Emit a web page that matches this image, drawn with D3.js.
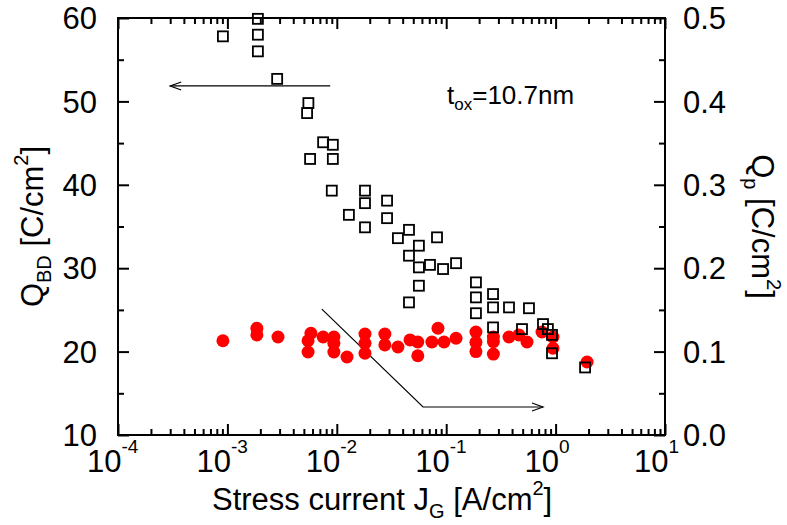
<!DOCTYPE html>
<html lang="en">
<head>
<meta charset="UTF-8">
<title>QBD vs stress current</title>
<script src="https://d3js.org/d3.v7.min.js"></script>
<style>
  html, body { margin: 0; background: #fff; overflow: hidden; }
  text { font-family: Arial, "Liberation Sans", sans-serif; fill: #000; }
</style>
</head>
<body>
<svg id="svg"></svg>
<script>
// QBD (open squares, left axis)
const sqJ = [9.1e-4, 1.9e-3, 1.9e-3, 1.9e-3, 2.85e-3, 5.5e-3, 5.35e-3, 7.5e-3, 9.2e-3, 5.7e-3,
  9.2e-3, 9.0e-3, 0.0181, 0.0181, 0.0288, 0.0129, 0.0288, 0.0181, 0.0457, 0.0362,
  0.0824, 0.0563, 0.0457, 0.0563, 0.0711, 0.0936, 0.123, 0.0563, 0.0457, 0.187,
  0.187, 0.268, 0.268, 0.375, 0.571, 0.187, 0.268, 0.493, 0.767, 0.85,
  0.927, 0.927, 1.86];
const sqQbd = [57.8, 59.9, 58.0, 56.0, 52.7, 49.8, 48.6, 45.1, 44.8, 43.1,
  43.1, 39.3, 39.3, 37.8, 38.1, 36.4, 36.0, 34.9, 34.6, 33.6,
  33.7, 32.7, 31.5, 30.1, 30.4, 29.9, 30.6, 27.9, 25.9, 28.3,
  26.5, 26.9, 25.3, 25.3, 25.2, 24.6, 22.9, 22.7, 23.3, 22.7,
  22.0, 19.8, 18.1];

// Qp (red dots, right axis)
const dotJ = [9.1e-4, 1.86e-3, 1.86e-3, 2.9e-3, 5.8e-3, 5.46e-3, 5.46e-3, 7.5e-3, 9.4e-3, 9.4e-3,
  9.4e-3, 0.0124, 0.0181, 0.0181, 0.0181, 0.0275, 0.0275, 0.0362, 0.0467, 0.055,
  0.055, 0.074, 0.0841, 0.0955, 0.123, 0.187, 0.187, 0.187, 0.27, 0.27,
  0.27, 0.375, 0.462, 0.548, 0.751, 0.946, 0.946, 1.94];
const dotQp = [0.113, 0.128, 0.120, 0.1175, 0.122, 0.113, 0.0995, 0.1175, 0.1175, 0.110,
  0.0995, 0.0935, 0.121, 0.110, 0.098, 0.121, 0.108, 0.1055, 0.114, 0.1115,
  0.095, 0.1115, 0.128, 0.1115, 0.116, 0.1235, 0.111, 0.100, 0.1175, 0.112,
  0.097, 0.1175, 0.12, 0.1115, 0.1235, 0.1175, 0.104, 0.0875];

const xExp = [-4, -3, -2, -1, 0, 1];
const yLeftTicks = [10, 20, 30, 40, 50, 60];
const yRightTicks = [0.0, 0.1, 0.2, 0.3, 0.4, 0.5];

const width = 787, height = 525;
const margin = { top: 18, left: 118, bottom: 90, right: 122 };

const svg = d3.select('#svg').attr('width', width).attr('height', height);

const x = d3.scaleLog().domain([1e-4, 10]).range([margin.left, width - margin.right]);
const yL = d3.scaleLinear().domain([10, 60]).range([height - margin.bottom, margin.top]);
const yR = d3.scaleLinear().domain([0, 0.5]).range([height - margin.bottom, margin.top]);

const majorX = xExp.map(e => Math.pow(10, e));
const minorX = [];
xExp.slice(0, -1).forEach(e => { for (let k = 2; k <= 9; k++) minorX.push(k * Math.pow(10, e)); });

const x0 = margin.left, x1 = width - margin.right;
const y0 = height - margin.bottom, y1 = margin.top;

const styleAxis = g => {
  g.select('.domain').remove();
  g.selectAll('line').attr('stroke', '#000').attr('stroke-width', 2);
  g.selectAll('text').remove();
};

// bottom + top ticks (inward)
svg.append('g').attr('transform', `translate(0,${y0})`)
  .call(d3.axisBottom(x).tickValues(majorX).tickSize(-11)).call(styleAxis);
svg.append('g').attr('transform', `translate(0,${y0})`)
  .call(d3.axisBottom(x).tickValues(minorX).tickSize(-6)).call(styleAxis);
svg.append('g').attr('transform', `translate(0,${y1})`)
  .call(d3.axisTop(x).tickValues(majorX).tickSize(-11)).call(styleAxis);
svg.append('g').attr('transform', `translate(0,${y1})`)
  .call(d3.axisTop(x).tickValues(minorX).tickSize(-6)).call(styleAxis);

// left + right ticks
svg.append('g').attr('transform', `translate(${x0},0)`)
  .call(d3.axisLeft(yL).tickValues(yLeftTicks).tickSize(-11)).call(styleAxis);
svg.append('g').attr('transform', `translate(${x0},0)`)
  .call(d3.axisLeft(yL).tickValues(d3.range(15, 60, 10)).tickSize(-6)).call(styleAxis);
svg.append('g').attr('transform', `translate(${x1},0)`)
  .call(d3.axisRight(yR).tickValues(yRightTicks).tickSize(-11)).call(styleAxis);
svg.append('g').attr('transform', `translate(${x1},0)`)
  .call(d3.axisRight(yR).tickValues(d3.range(0.05, 0.5, 0.1)).tickSize(-6)).call(styleAxis);

// frame
svg.append('rect').attr('x', x0).attr('y', y1).attr('width', x1 - x0).attr('height', y0 - y1)
  .attr('fill', 'none').attr('stroke', '#000').attr('stroke-width', 2);

// tick labels
const fs = 31, sub = 20;
svg.append('g').selectAll('text').data(yLeftTicks).join('text')
  .attr('x', x0 - 21).attr('y', d => yL(d)).attr('dy', '0.36em')
  .attr('text-anchor', 'end').attr('font-size', fs).text(d => d);
svg.append('g').selectAll('text').data(yRightTicks).join('text')
  .attr('x', x1 + 18).attr('y', d => yR(d)).attr('dy', '0.36em')
  .attr('text-anchor', 'start').attr('font-size', fs).text(d => d.toFixed(1));
const xl = svg.append('g').selectAll('text').data(xExp).join('text')
  .attr('x', d => x(Math.pow(10, d)) - 31).attr('y', 472)
  .attr('font-size', fs);
xl.append('tspan').text('10');
xl.append('tspan').attr('font-size', 19).attr('dy', -19).text(d => d);

// axis titles
const xt = svg.append('text').attr('x', 212).attr('y', 510).attr('font-size', fs);
xt.append('tspan').text('Stress current J');
xt.append('tspan').attr('font-size', sub).attr('dy', 8).text('G');
xt.append('tspan').attr('dy', -8).text(' [A/cm');
xt.append('tspan').attr('font-size', sub).attr('dy', -15).text('2');
xt.append('tspan').attr('dy', 15).text(']');

const ylt = svg.append('text').attr('transform', `translate(43,${(y0 + y1) / 2}) rotate(-90)`)
  .attr('text-anchor', 'middle').attr('font-size', fs);
ylt.append('tspan').text('Q');
ylt.append('tspan').attr('font-size', sub).attr('dy', 8).text('BD');
ylt.append('tspan').attr('dy', -8).text(' [C/cm');
ylt.append('tspan').attr('font-size', sub).attr('dy', -15).text('2');
ylt.append('tspan').attr('dy', 15).text(']');

const yrt = svg.append('text').attr('transform', `translate(752,${(y0 + y1) / 2}) rotate(90)`)
  .attr('text-anchor', 'middle').attr('font-size', fs);
yrt.append('tspan').text('Q');
yrt.append('tspan').attr('font-size', sub).attr('dy', 8).text('p');
yrt.append('tspan').attr('dy', -8).text(' [C/cm');
yrt.append('tspan').attr('font-size', sub).attr('dy', -15).text('2');
yrt.append('tspan').attr('dy', 15).text(']');

// annotation
const tox = svg.append('text').attr('x', 447).attr('y', 104).attr('font-size', 26);
tox.append('tspan').text('t');
tox.append('tspan').attr('font-size', 17).attr('dy', 6).text('ox');
tox.append('tspan').attr('dy', -6).text('=10.7nm');

// arrows
const arrowHead = (px, py, dir) => {
  svg.append('path')
    .attr('d', `M${px - dir * 11},${py - 4} L${px},${py} L${px - dir * 11},${py + 4}`)
    .attr('fill', 'none').attr('stroke', '#000').attr('stroke-width', 1.2);
};
const la = [[8.7e-3, 51.85], [3.0e-4, 51.85]];
svg.append('path').attr('d', d3.line()(la.map(d => [x(d[0]), yL(d[1])])))
  .attr('fill', 'none').attr('stroke', '#000').attr('stroke-width', 1.2);
arrowHead(x(la[1][0]), yL(la[1][1]), -1);

const ra = [[7.3e-3, 0.151], [0.0614, 0.0336], [0.767, 0.0336]];
svg.append('path').attr('d', d3.line()(ra.map(d => [x(d[0]), yR(d[1])])))
  .attr('fill', 'none').attr('stroke', '#000').attr('stroke-width', 1.2);
arrowHead(x(ra[2][0]), yR(ra[2][1]), 1);

// data
svg.append('g').selectAll('circle').data(dotJ).join('circle')
  .attr('cx', d => x(d)).attr('cy', (d, i) => yR(dotQp[i])).attr('r', 6.5)
  .attr('fill', '#ff0000');

const s = 10;
svg.append('g').selectAll('rect').data(sqJ).join('rect')
  .attr('x', d => x(d) - s / 2).attr('y', (d, i) => yL(sqQbd[i]) - s / 2)
  .attr('width', s).attr('height', s)
  .attr('fill', 'none').attr('stroke', '#000').attr('stroke-width', 1.8);
</script>
</body>
</html>
